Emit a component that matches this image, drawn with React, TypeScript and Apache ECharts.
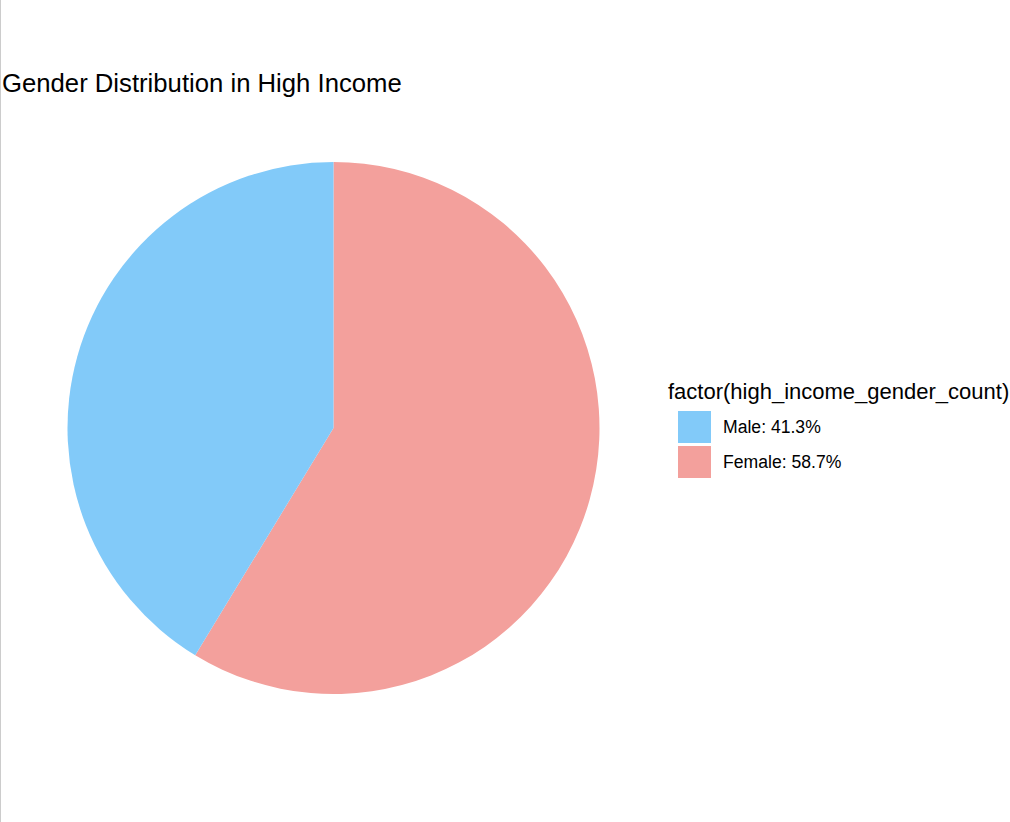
import React, { useEffect, useRef } from "react";
import * as echarts from "echarts";

const categories = ["Female: 58.7%", "Male: 41.3%"];
const values = [58.7, 41.3];
const colors = ["#F3A09C", "#82CAF9"];
const legendOrder = ["Male: 41.3%", "Female: 58.7%"];

export default function App() {
  const ref = useRef<HTMLDivElement>(null);
  useEffect(() => {
    document.body.style.margin = "0";
    const chart = echarts.init(ref.current!, null, { renderer: "svg" });
    chart.setOption({
      animation: false,
      backgroundColor: "#ffffff",
      title: {
        text: "Gender Distribution in High Income",
        left: 2,
        top: 70,
        padding: 0,
        textStyle: {
          fontFamily: "Liberation Sans, Arial, sans-serif",
          fontSize: 25.7,
          fontWeight: "normal",
          color: "#000000",
        },
      },
      legend: {
        orient: "vertical",
        left: 678,
        top: 411,
        padding: 0,
        itemWidth: 33,
        itemHeight: 32,
        itemGap: 3,
        icon: "rect",
        data: legendOrder,
        selectedMode: false,
        textStyle: {
          fontFamily: "Liberation Sans, Arial, sans-serif",
          fontSize: 17.6,
          color: "#000000",
          padding: [0, 0, 0, 7],
        },
      },
      graphic: [
        {
          type: "text",
          left: 668,
          top: 380,
          style: {
            text: "factor(high_income_gender_count)",
            fontFamily: "Liberation Sans, Arial, sans-serif",
            fontSize: 22,
            fill: "#000000",
          },
        },
        {
          type: "line",
          shape: { x1: 0.5, y1: 0, x2: 0.5, y2: 822 },
          style: { stroke: "#cccccc", lineWidth: 1 },
        },
      ],
      series: [
        {
          type: "pie",
          center: [333.5, 428],
          radius: [0, 266],
          startAngle: 90,
          clockwise: true,
          label: { show: false },
          labelLine: { show: false },
          silent: true,
          itemStyle: { borderWidth: 0 },
          data: categories.map((c, i) => ({
            name: c,
            value: values[i],
            itemStyle: { color: colors[i] },
          })),
        },
      ],
    });
    return () => chart.dispose();
  }, []);
  return (
    <div
      ref={ref}
      style={{ position: "absolute", left: 0, top: 0, width: 1010, height: 822 }}
    />
  );
}
